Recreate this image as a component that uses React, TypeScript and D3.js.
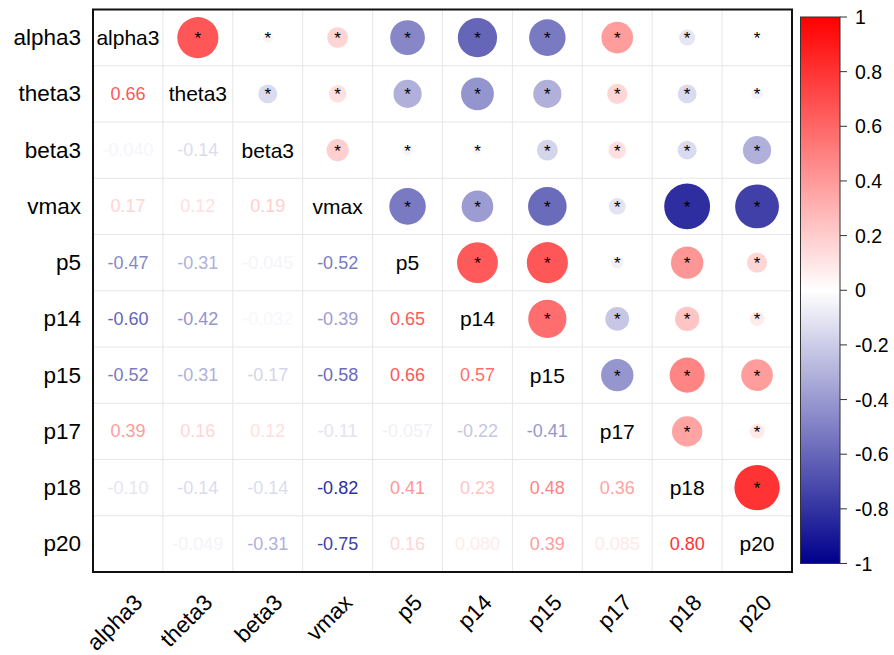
import React from "react";
import * as d3 from "d3";

const labels = ["alpha3", "theta3", "beta3", "vmax", "p5", "p14", "p15", "p17", "p18", "p20"];

// lower-triangle correlation rows (row i holds r[i][0..i-1])
const rowTheta3 = [0.66];
const rowBeta3 = [-0.04, -0.14];
const rowVmax = [0.17, 0.12, 0.19];
const rowP5 = [-0.47, -0.31, -0.045, -0.52];
const rowP14 = [-0.6, -0.42, -0.032, -0.39, 0.65];
const rowP15 = [-0.52, -0.31, -0.17, -0.58, 0.66, 0.57];
const rowP17 = [0.39, 0.16, 0.12, -0.11, -0.057, -0.22, -0.41];
const rowP18 = [-0.1, -0.14, -0.14, -0.82, 0.41, 0.23, 0.48, 0.36];
const rowP20 = [0.001, -0.049, -0.31, -0.75, 0.16, 0.08, 0.39, 0.085, 0.8];

const lowerRows: number[][] = [[], rowTheta3, rowBeta3, rowVmax, rowP5, rowP14, rowP15, rowP17, rowP18, rowP20];

const colorTicks = [1, 0.8, 0.6, 0.4, 0.2, 0, -0.2, -0.4, -0.6, -0.8, -1];

const W = 894;
const H = 655;
const plot = { x0: 93, x1: 792, y0: 9.5, y1: 572 };
const bar = { x0: 800.5, x1: 840, y0: 17, y1: 563.5 };
const FONT = "'Liberation Sans', Arial, sans-serif";

function getR(i: number, j: number): number {
  if (i === j) return 1;
  return i > j ? lowerRows[i][j] : lowerRows[j][i];
}

export default function App() {
  const n = labels.length;
  const x = d3.scaleBand<string>().domain(labels).range([plot.x0, plot.x1]);
  const y = d3.scaleBand<string>().domain(labels).range([plot.y0, plot.y1]);
  const color = d3
    .scaleLinear<string>()
    .domain([-1, 0, 1])
    .range(["#00008B", "#FFFFFF", "#FF0000"])
    .interpolate(d3.interpolateRgb);
  const cw = x.bandwidth();
  const ch = y.bandwidth();
  const rMax = 0.9 * (Math.min(cw, ch) / 2);
  const radius = (v: number) => rMax * Math.sqrt(Math.abs(v));
  const barY = d3.scaleLinear().domain([-1, 1]).range([bar.y1, bar.y0]);

  const cells: React.ReactNode[] = [];
  for (let i = 0; i < n; i++) {
    for (let j = 0; j < n; j++) {
      const cx = (x(labels[j]) as number) + cw / 2;
      const cy = (y(labels[i]) as number) + ch / 2;
      const key = `${i}-${j}`;
      if (i === j) {
        cells.push(
          <text key={key} x={cx} y={cy} textAnchor="middle" dominantBaseline="central" fontSize={21} fill="#000">
            {labels[i]}
          </text>
        );
      } else if (i > j) {
        const v = getR(i, j);
        cells.push(
          <text key={key} x={cx} y={cy} textAnchor="middle" dominantBaseline="central" fontSize={18} fill={color(v)}>
            {v.toPrecision(2)}
          </text>
        );
      } else {
        const v = getR(i, j);
        cells.push(
          <g key={key}>
            <circle cx={cx} cy={cy} r={radius(v)} fill={color(v)} />
            <text x={cx} y={cy + 6.5} textAnchor="middle" fontSize={17} fill="#000">
              *
            </text>
          </g>
        );
      }
    }
  }

  const grid: React.ReactNode[] = [];
  for (let k = 1; k < n; k++) {
    const gx = x(labels[k]) as number;
    const gy = y(labels[k]) as number;
    grid.push(<line key={`v${k}`} x1={gx} x2={gx} y1={plot.y0} y2={plot.y1} stroke="#e6e6e6" strokeWidth={1} />);
    grid.push(<line key={`h${k}`} x1={plot.x0} x2={plot.x1} y1={gy} y2={gy} stroke="#e6e6e6" strokeWidth={1} />);
  }

  const gradStops = d3.range(0, 21).map((k) => {
    const v = -1 + k * 0.1;
    return <stop key={k} offset={`${(k / 20) * 100}%`} stopColor={color(v)} />;
  });

  return (
    <svg width={W} height={H} style={{ position: "absolute", left: 0, top: 0, background: "#fff" }} fontFamily={FONT}>
      <defs>
        <linearGradient id="cbar" x1="0" y1="1" x2="0" y2="0">
          {gradStops}
        </linearGradient>
      </defs>
      <rect x={0} y={0} width={W} height={H} fill="#fff" />
      {grid}
      {cells}
      <rect x={plot.x0} y={plot.y0} width={plot.x1 - plot.x0} height={plot.y1 - plot.y0} fill="none" stroke="#111" strokeWidth={2} />
      {labels.map((l) => (
        <text key={`yl-${l}`} x={81} y={(y(l) as number) + ch / 2} textAnchor="end" dominantBaseline="central" fontSize={22.5} fill="#000">
          {l}
        </text>
      ))}
      {labels.map((l) => {
        const tx = (x(l) as number) + cw / 2 + 16;
        const ty = 604;
        return (
          <text key={`xl-${l}`} x={tx} y={ty} textAnchor="end" fontSize={22.5} fill="#000" transform={`rotate(-45 ${tx} ${ty})`}>
            {l}
          </text>
        );
      })}
      <rect x={bar.x0} y={bar.y0} width={bar.x1 - bar.x0} height={bar.y1 - bar.y0} fill="url(#cbar)" stroke="#333" strokeWidth={1} />
      {colorTicks.map((t) => (
        <g key={`ct${t}`}>
          <line x1={bar.x1} x2={bar.x1 + 7} y1={barY(t)} y2={barY(t)} stroke="#333" strokeWidth={1} />
          <text x={855} y={barY(t)} dominantBaseline="central" fontSize={19.5} fill="#000">
            {t === 0 ? "0" : `${t}`}
          </text>
        </g>
      ))}
    </svg>
  );
}
